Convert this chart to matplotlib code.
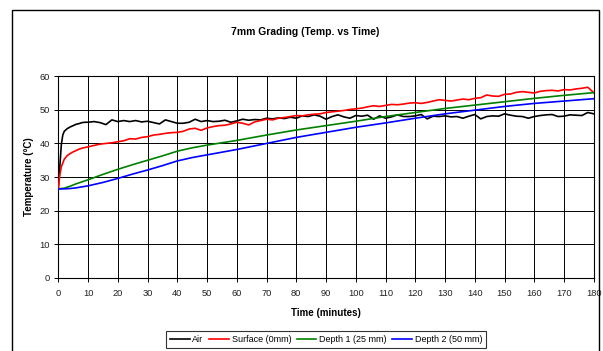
import matplotlib
matplotlib.use("Agg")
import matplotlib.pyplot as plt
from matplotlib.patches import Rectangle

plt.rcParams['font.family'] = ['Liberation Sans', 'DejaVu Sans']

title = "7mm Grading (Temp. vs Time)"
x_label = "Time (minutes)"
y_label = "Temperature (°C)"
series_names = ["Air", "Surface (0mm)", "Depth 1 (25 mm)", "Depth 2 (50 mm)"]
series_colors = ["#000000", "#ff0000", "#008000", "#0000ff"]

# Air temperature
air_t = [0, 0.5, 1, 1.5, 2, 3, 4, 5, 6, 7, 8, 9] + list(range(10, 181, 2))
air_v = [26.8, 33.0, 39.5, 42.5, 43.6, 44.4, 44.9, 45.3, 45.7, 45.9, 46.2, 46.3,
         46.3, 46.5, 46.2, 45.6, 47.0, 46.5, 46.8, 46.5, 46.8, 46.4, 46.6, 46.2,
         45.8, 47.0, 46.5, 46.0, 46.0, 46.3, 47.2, 46.5, 46.8, 46.5, 46.6, 46.9,
         46.3, 46.7, 47.2, 46.9, 47.1, 47.0, 47.5, 47.3, 47.6, 47.4, 47.8, 47.5,
         48.2, 48.0, 48.5, 48.1, 47.2, 48.0, 48.5, 47.9, 47.5, 48.3, 48.1, 48.4,
         47.2, 48.2, 47.5, 47.9, 48.5, 48.0, 48.0, 48.2, 48.6, 47.3, 48.1, 48.0,
         48.2, 47.9, 48.0, 47.5, 48.1, 48.6, 47.3, 48.0, 48.2, 48.1, 48.8, 48.4,
         48.1, 48.0, 47.5, 48.0, 48.3, 48.5, 48.6, 48.0, 48.1, 48.5, 48.4, 48.3,
         49.2, 48.8]

# Surface temperature
surf_t = [0, 0.5, 1, 2, 3, 4, 5, 6, 7, 8, 9] + list(range(10, 181, 2))
surf_v = [26.6, 30.5, 33.0, 35.3, 36.4, 37.0, 37.5, 37.9, 38.3, 38.6, 38.8,
          39.0, 39.4, 39.8, 40.0, 40.2, 40.5, 40.8, 41.4, 41.3, 41.8, 42.0, 42.5,
          42.7, 43.0, 43.2, 43.3, 43.6, 44.3, 44.5, 43.9, 44.6, 45.0, 45.3, 45.4,
          45.8, 46.3, 46.0, 45.5, 46.4, 46.8, 47.2, 47.0, 47.5, 47.7, 48.0, 48.3,
          48.2, 48.5, 48.7, 48.8, 49.2, 49.4, 49.6, 49.8, 50.1, 50.3, 50.5, 50.9,
          51.2, 51.0, 51.3, 51.6, 51.5, 51.7, 52.0, 52.1, 51.9, 52.2, 52.6, 53.0,
          52.8, 52.6, 52.9, 53.2, 53.0, 53.4, 53.6, 54.4, 54.1, 54.0, 54.6, 54.7,
          55.2, 55.4, 55.2, 55.0, 55.5, 55.7, 55.8, 55.6, 56.0, 55.9, 56.2, 56.4,
          56.7, 55.1]

# Depth 1 temperature
d1_t = [0, 2, 4, 6, 8, 10, 15, 20, 25, 30, 35, 40, 45, 50, 55, 60, 70, 80,
        90, 100, 110, 120, 130, 140, 150, 160, 170, 180]
d1_v = [26.5, 26.7, 27.3, 28.0, 28.6, 29.2, 30.8, 32.3, 33.7, 35.0, 36.3, 37.7,
        38.7, 39.5, 40.2, 40.9, 42.5, 44.0, 45.3, 46.6, 48.0, 49.2, 50.4, 51.4,
        52.4, 53.4, 54.3, 55.1]

# Depth 2 temperature
d2_t = [0, 2, 4, 6, 8, 10, 15, 20, 25, 30, 35, 40, 45, 50, 60, 70, 80, 90,
        100, 110, 120, 130, 140, 150, 160, 170, 180]
d2_v = [26.5, 26.5, 26.6, 26.8, 27.1, 27.4, 28.4, 29.6, 30.9, 32.1, 33.4, 34.8,
        35.8, 36.6, 38.2, 40.0, 41.8, 43.3, 44.8, 46.1, 47.5, 48.8, 49.9, 51.0,
        51.9, 52.6, 53.3]

x_ticks = list(range(0, 181, 10))
y_ticks = list(range(0, 61, 10))

fig = plt.figure(figsize=(6.03, 3.51), dpi=100)
fig.patches.append(Rectangle((12 / 603, -0.05), 587 / 603, 1.05 - 10 / 351,
                             transform=fig.transFigure, fill=False,
                             edgecolor='black', linewidth=1.0))

ax = fig.add_axes([0.0967, 0.208, 0.888, 0.575])
for t, v, name, c in zip([air_t, surf_t, d1_t, d2_t], [air_v, surf_v, d1_v, d2_v],
                         series_names, series_colors):
    ax.plot(t, v, color=c, linewidth=1.2, label=name, zorder=3)

ax.set_xlim(0, 180)
ax.set_ylim(0, 60)
ax.set_xticks(x_ticks)
ax.set_yticks(y_ticks)
ax.grid(True, color='#000000', linewidth=0.7)
ax.set_axisbelow(True)
for s in ax.spines.values():
    s.set_color('black')
    s.set_linewidth(0.8)
ax.tick_params(axis='both', labelsize=6.7, length=3, width=0.7,
               colors='black', labelcolor='#222222')
ax.tick_params(axis='x', pad=5)
ax.tick_params(axis='y', pad=3)
ax.set_xlabel(x_label, fontsize=7, fontweight='bold', labelpad=7)
ax.set_ylabel(y_label, fontsize=7, fontweight='bold', labelpad=4)
fig.text(0.506, 1 - 32 / 351, title, fontsize=7.5, fontweight='bold',
         ha='center', va='center')

leg = ax.legend(loc='upper center', bbox_to_anchor=(0.5, -0.265), ncol=4,
                fontsize=6.5, frameon=True, fancybox=False, edgecolor='black',
                handlelength=2.2, handletextpad=0.3, columnspacing=0.6,
                borderpad=0.4, borderaxespad=0)
leg.get_frame().set_linewidth(0.8)

fig.savefig("out.png", dpi=100)
